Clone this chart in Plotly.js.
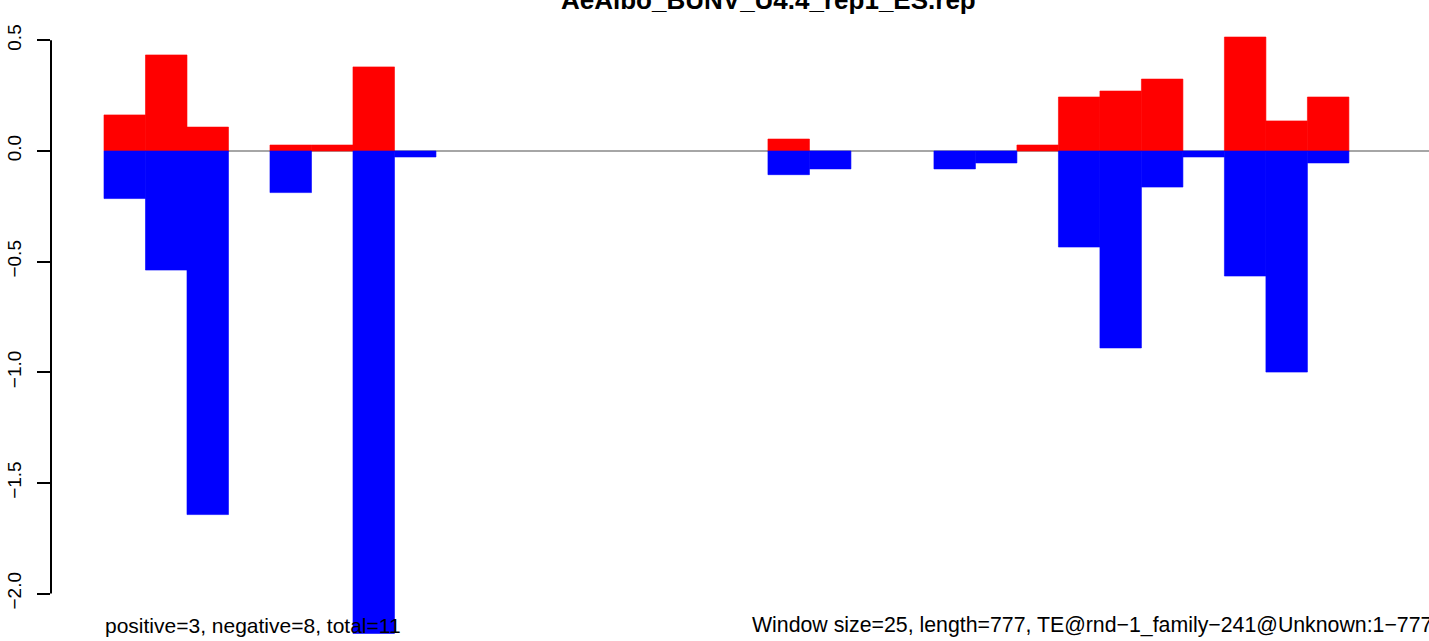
<!DOCTYPE html>
<html>
<head>
<meta charset="utf-8">
<script src="https://cdn.plot.ly/plotly-3.0.1.min.js"></script>
<style>
html,body{margin:0;padding:0;background:#fff;overflow:hidden;}
#chart{width:1429px;height:641px;}
</style>
</head>
<body>
<div id="chart"></div>
<script>
// Window index (bars of width 1, space 0)
const windowIndex = [0,1,2,3,4,5,6,7,8,9,10,11,12,13,14,15,16,17,18,19,20,21,22,23,24,25,26,27,28,29,30,31];
// Positive (red) values per window
const positiveValues = [0.163,0.434,0.108,0,0.027,0.027,0.38,0,0,0,0,0,0,0,0,0,0.054,0,0,0,0,0,0.027,0.244,0.271,0.325,0,0.515,0.136,0.244,0,0];
// Negative (blue) values per window
const negativeValues = [-0.215,-0.538,-1.643,0,-0.188,0,-2.18,-0.027,0,0,0,0,0,0,0,0,-0.107,-0.081,0,0,-0.081,-0.054,0,-0.434,-0.89,-0.163,-0.027,-0.565,-0.999,-0.054,0,0];
// Y tick values and labels
const yTickVals = [-2,-1.5,-1,-0.5,0,0.5];
const yTickText = ['\u22122.0','\u22121.5','\u22121.0','\u22120.5','0.0','0.5'];
const titleText = 'AeAlbo_BUNV_U4.4_rep1_ES.rep';
const footLeft = 'positive=3, negative=8, total=11';
const footRight = 'Window size=25, length=777, TE@rnd\u22121_family\u2212241@Unknown:1\u2212777';

const xc = windowIndex.map(i => i + 0.5);
const nz = arr => arr.map(v => (v === 0 ? null : v));
const font = '"Liberation Sans", Arial, Helvetica, sans-serif';

const traces = [
  {type:'bar', x:xc, y:nz(positiveValues), width:1, marker:{color:'#ff0000', line:{width:0.6, color:'#ff0000'}}, hoverinfo:'skip'},
  {type:'bar', x:xc, y:nz(negativeValues), width:1, marker:{color:'#0000ff', line:{width:0.6, color:'#0000ff'}}, hoverinfo:'skip'}
];

const W = 1429, H = 641, L = 51;
const px = v => (v - L) / (W - L);

const layout = {
  width: W, height: H,
  margin: {l: L, r: 0, t: 0, b: 0, pad: 0},
  paper_bgcolor: '#ffffff', plot_bgcolor: '#ffffff',
  barmode: 'overlay',
  showlegend: false,
  font: {family: font, color: '#000'},
  xaxis: {range: [-1.277, 31.93], visible: false, fixedrange: true},
  yaxis: {
    range: [-2.2142, 0.6823],
    tickmode: 'array', tickvals: yTickVals, ticktext: yTickText,
    ticks: 'outside', ticklen: 13, tickwidth: 2, tickcolor: '#000',
    tickangle: -90, tickfont: {family: font, size: 19, color: '#000'},
    ticklabelstandoff: 8,
    showgrid: false, zeroline: false, showline: false, fixedrange: true
  },
  shapes: [
    {type:'line', layer:'below', xref:'x', yref:'y', x0:0, x1:32, y0:0, y1:0, line:{color:'#888888', width:1.5}},
    {type:'line', layer:'above', xref:'paper', yref:'y', x0:0, x1:0, y0:-2, y1:0.5, line:{color:'#000', width:2}}
  ],
  annotations: [
    {text: '<b>' + titleText + '</b>', xref:'paper', yref:'paper', x: px(768), y: 1 - 17/H, xanchor:'center', yanchor:'bottom', showarrow:false, font:{family:font, size:26, color:'#000'}},
    {text: footLeft, xref:'paper', yref:'paper', x: px(103), y: 2/H, xanchor:'left', yanchor:'bottom', showarrow:false, font:{family:font, size:21, color:'#000'}},
    {text: footRight, xref:'paper', yref:'paper', x: px(750), y: 2/H, xanchor:'left', yanchor:'bottom', showarrow:false, font:{family:font, size:21.3, color:'#000'}}
  ]
};

Plotly.newPlot('chart', traces, layout, {staticPlot: true, displayModeBar: false});
</script>
</body>
</html>
